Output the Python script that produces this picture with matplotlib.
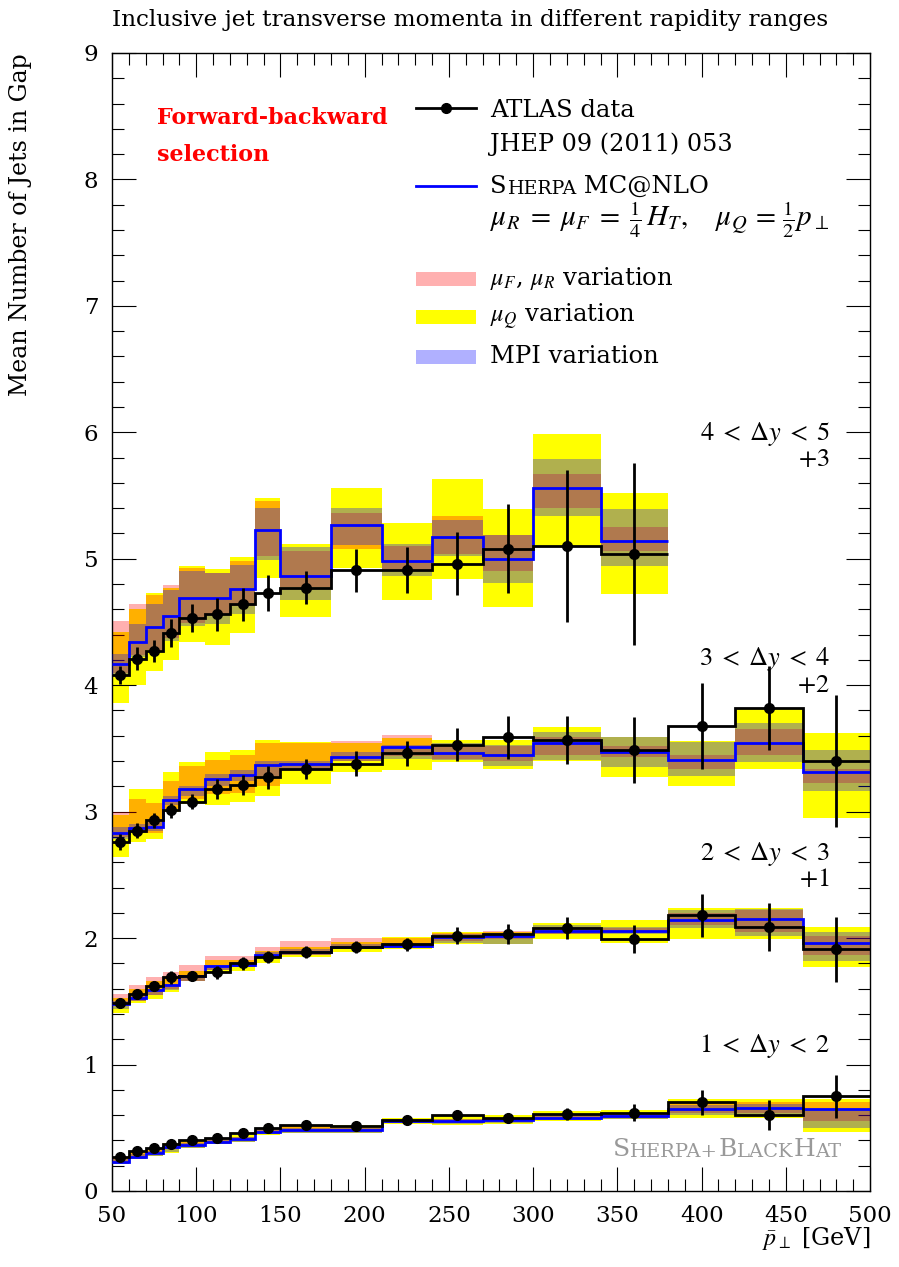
import numpy as np
import matplotlib
matplotlib.use('Agg')
import matplotlib.pyplot as plt
from matplotlib.patches import Rectangle
from matplotlib.lines import Line2D
from matplotlib.ticker import MultipleLocator

plt.rcParams['font.family'] = ['DejaVu Serif']
plt.rcParams['mathtext.fontset'] = 'stix'

# bin edges in pT [GeV]
edges = np.array([50, 60, 70, 80, 90, 105, 120, 135, 150, 180, 210, 240, 270, 300, 340, 380, 420, 460, 500])

# 4 < dy < 5  (shifted by +3, only up to 380 GeV)
data45 = [1.08, 1.21, 1.27, 1.41, 1.53, 1.56, 1.64, 1.73, 1.77, 1.91, 1.91, 1.96, 2.08, 2.10, 2.04]
err45 = [0.07, 0.09, 0.09, 0.11, 0.11, 0.13, 0.13, 0.14, 0.13, 0.17, 0.18, 0.25, 0.35, 0.60, 0.72]
mc45 = [1.17, 1.34, 1.46, 1.55, 1.69, 1.69, 1.76, 2.23, 1.86, 2.27, 1.98, 2.17, 2.00, 2.56, 2.14]
ylo45 = [0.86, 1.00, 1.11, 1.20, 1.34, 1.32, 1.41, 1.85, 1.54, 1.93, 1.67, 1.84, 1.62, 2.10, 1.72]
yhi45 = [1.42, 1.60, 1.73, 1.77, 1.94, 1.92, 2.01, 2.48, 2.12, 2.56, 2.28, 2.63, 2.39, 2.99, 2.52]
rlo45 = [1.10, 1.24, 1.28, 1.37, 1.49, 1.56, 1.63, 2.02, 1.78, 2.08, 1.90, 2.04, 1.90, 2.40, 2.06]
rhi45 = [1.51, 1.64, 1.71, 1.79, 1.93, 1.89, 1.98, 2.46, 2.06, 2.36, 2.10, 2.34, 2.19, 2.67, 2.25]
blo45 = [1.08, 1.22, 1.28, 1.35, 1.47, 1.48, 1.56, 1.99, 1.67, 2.11, 1.86, 2.02, 1.81, 2.34, 1.94]
bhi45 = [1.25, 1.48, 1.64, 1.75, 1.90, 1.89, 1.95, 2.40, 2.09, 2.40, 2.12, 2.31, 2.19, 2.79, 2.39]

# 3 < dy < 4  (shifted by +2)
data34 = [0.76, 0.85, 0.93, 1.01, 1.08, 1.18, 1.21, 1.27, 1.34, 1.38, 1.46, 1.53, 1.59, 1.57, 1.49, 1.68, 1.82, 1.40]
err34 = [0.06, 0.06, 0.06, 0.06, 0.06, 0.08, 0.08, 0.09, 0.08, 0.10, 0.10, 0.13, 0.17, 0.19, 0.26, 0.34, 0.33, 0.52]
mc34 = [0.83, 0.87, 0.88, 1.09, 1.18, 1.26, 1.29, 1.37, 1.38, 1.43, 1.51, 1.46, 1.45, 1.54, 1.47, 1.41, 1.54, 1.31]
ylo34 = [0.64, 0.76, 0.78, 1.00, 1.06, 1.05, 1.08, 1.12, 1.22, 1.31, 1.33, 1.39, 1.34, 1.40, 1.27, 1.20, 1.34, 0.95]
yhi34 = [0.97, 1.18, 1.18, 1.31, 1.39, 1.47, 1.49, 1.57, 1.55, 1.54, 1.58, 1.57, 1.57, 1.67, 1.59, 1.56, 1.81, 1.62]
rlo34 = [0.80, 0.83, 0.83, 1.02, 1.10, 1.14, 1.15, 1.20, 1.33, 1.40, 1.44, 1.42, 1.40, 1.45, 1.43, 1.34, 1.45, 1.23]
rhi34 = [1.00, 1.10, 1.07, 1.24, 1.36, 1.41, 1.45, 1.54, 1.54, 1.56, 1.61, 1.52, 1.52, 1.59, 1.52, 1.45, 1.65, 1.34]
blo34 = [0.78, 0.83, 0.85, 1.05, 1.12, 1.20, 1.24, 1.28, 1.33, 1.40, 1.42, 1.41, 1.36, 1.41, 1.35, 1.28, 1.39, 1.16]
bhi34 = [0.88, 0.90, 0.92, 1.12, 1.20, 1.30, 1.33, 1.40, 1.40, 1.47, 1.53, 1.54, 1.53, 1.63, 1.59, 1.55, 1.70, 1.49]

# 2 < dy < 3  (shifted by +1)
data23 = [0.49, 0.56, 0.62, 0.69, 0.70, 0.73, 0.80, 0.85, 0.89, 0.93, 0.95, 1.02, 1.03, 1.08, 0.99, 1.18, 1.09, 0.91]
err23 = [0.04, 0.04, 0.04, 0.05, 0.04, 0.05, 0.05, 0.05, 0.05, 0.05, 0.05, 0.07, 0.08, 0.09, 0.11, 0.17, 0.19, 0.26]
mc23 = [0.48, 0.53, 0.59, 0.63, 0.70, 0.78, 0.79, 0.87, 0.89, 0.93, 0.94, 1.01, 1.02, 1.06, 1.06, 1.14, 1.15, 0.96]
ylo23 = [0.41, 0.49, 0.52, 0.57, 0.66, 0.73, 0.74, 0.80, 0.85, 0.89, 0.91, 0.95, 0.95, 0.99, 0.96, 0.99, 0.99, 0.77]
yhi23 = [0.53, 0.60, 0.66, 0.70, 0.74, 0.83, 0.83, 0.90, 0.93, 0.97, 1.01, 1.05, 1.05, 1.12, 1.14, 1.24, 1.24, 1.09]
rlo23 = [0.46, 0.50, 0.55, 0.60, 0.66, 0.75, 0.77, 0.84, 0.87, 0.91, 0.93, 0.98, 0.99, 1.03, 1.04, 1.10, 1.05, 0.87]
rhi23 = [0.56, 0.63, 0.69, 0.73, 0.79, 0.86, 0.86, 0.93, 0.98, 1.00, 1.00, 1.04, 1.06, 1.09, 1.08, 1.20, 1.22, 1.02]
blo23 = [0.44, 0.50, 0.55, 0.59, 0.66, 0.75, 0.77, 0.84, 0.87, 0.91, 0.92, 0.96, 0.95, 1.03, 1.03, 1.08, 1.02, 0.82]
bhi23 = [0.50, 0.55, 0.60, 0.64, 0.71, 0.79, 0.81, 0.89, 0.91, 0.95, 0.96, 1.03, 1.04, 1.10, 1.09, 1.22, 1.23, 1.05]

# 1 < dy < 2  (no shift)
data12 = [0.27, 0.32, 0.34, 0.37, 0.40, 0.42, 0.46, 0.50, 0.52, 0.51, 0.56, 0.60, 0.58, 0.61, 0.62, 0.70, 0.60, 0.75]
err12 = [0.02, 0.02, 0.02, 0.02, 0.02, 0.02, 0.03, 0.03, 0.03, 0.03, 0.03, 0.04, 0.04, 0.05, 0.07, 0.10, 0.12, 0.17]
mc12 = [0.23, 0.27, 0.30, 0.35, 0.36, 0.39, 0.41, 0.47, 0.48, 0.48, 0.55, 0.55, 0.56, 0.58, 0.59, 0.65, 0.66, 0.65]
ylo12 = [0.21, 0.25, 0.28, 0.30, 0.34, 0.37, 0.39, 0.44, 0.46, 0.46, 0.53, 0.52, 0.53, 0.55, 0.57, 0.58, 0.58, 0.47]
yhi12 = [0.27, 0.31, 0.34, 0.38, 0.40, 0.42, 0.44, 0.50, 0.52, 0.52, 0.58, 0.60, 0.60, 0.63, 0.64, 0.73, 0.73, 0.73]
rlo12 = [0.23, 0.26, 0.29, 0.33, 0.35, 0.38, 0.40, 0.46, 0.47, 0.47, 0.54, 0.54, 0.55, 0.57, 0.58, 0.62, 0.62, 0.55]
rhi12 = [0.27, 0.30, 0.33, 0.37, 0.39, 0.41, 0.43, 0.50, 0.51, 0.50, 0.57, 0.57, 0.58, 0.60, 0.62, 0.70, 0.70, 0.70]
blo12 = [0.21, 0.25, 0.28, 0.31, 0.34, 0.37, 0.39, 0.45, 0.46, 0.46, 0.54, 0.53, 0.54, 0.56, 0.57, 0.60, 0.60, 0.50]
bhi12 = [0.25, 0.29, 0.32, 0.37, 0.38, 0.41, 0.43, 0.49, 0.50, 0.50, 0.57, 0.57, 0.58, 0.60, 0.61, 0.68, 0.69, 0.64]

series = [
    (3, edges[:16], data45, err45, mc45, ylo45, yhi45, rlo45, rhi45, blo45, bhi45),
    (2, edges, data34, err34, mc34, ylo34, yhi34, rlo34, rhi34, blo34, bhi34),
    (1, edges, data23, err23, mc23, ylo23, yhi23, rlo23, rhi23, blo23, bhi23),
    (0, edges, data12, err12, mc12, ylo12, yhi12, rlo12, rhi12, blo12, bhi12),
]

labels = [r'$4\;<\;\Delta y\;<\;5$', r'$3\;<\;\Delta y\;<\;4$', r'$2\;<\;\Delta y\;<\;3$', r'$1\;<\;\Delta y\;<\;2$']
shifts = ['$+3$', '$+2$', '$+1$', '']
label_y = [5.94, 4.16, 2.62, 1.10]

FS = 17.2

fig = plt.figure(figsize=(8.99, 12.67), dpi=100)
ax = fig.add_axes([0.1246, 0.0600, 0.8432, 0.8982])


def band(e, lo, hi, off, **kw):
    lo = np.array(lo) + off
    hi = np.array(hi) + off
    ax.bar(e[:-1], hi - lo, width=np.diff(e), bottom=lo, align='edge', linewidth=0, **kw)


for off, e, dat, err, mc, ylo, yhi, rlo, rhi, blo, bhi in series:
    band(e, ylo, yhi, off, color='#ffff00', zorder=1)
    band(e, rlo, rhi, off, color='red', alpha=0.31, zorder=2)
    band(e, blo, bhi, off, color='blue', alpha=0.31, zorder=3)
    ax.stairs(np.array(mc) + off, e, baseline=None, color='blue', lw=2, zorder=4)
    ax.stairs(np.array(dat) + off, e, baseline=None, color='black', lw=2, zorder=5)
    xc = 0.5 * (e[:-1] + e[1:])
    ax.errorbar(xc, np.array(dat) + off, yerr=err, fmt='o', color='black', ms=7,
                elinewidth=2, capsize=0, zorder=6)

for lab, sh, yl in zip(labels, shifts, label_y):
    ax.text(476, yl, lab, fontsize=19, ha='right', va='baseline')
    if sh:
        ax.text(476, yl - 0.21, sh, fontsize=19, ha='right', va='baseline')

ax.set_xlim(50, 500)
ax.set_ylim(0, 9)
ax.xaxis.set_major_locator(MultipleLocator(50))
ax.xaxis.set_minor_locator(MultipleLocator(10))
ax.yaxis.set_major_locator(MultipleLocator(1))
ax.yaxis.set_minor_locator(MultipleLocator(0.2))
ax.tick_params(which='both', direction='in', top=True, right=True, width=0.8, labelsize=16.5)
ax.tick_params(which='major', length=17, pad=10)
ax.tick_params(which='minor', length=8.5)
for s in ax.spines.values():
    s.set_linewidth(1.0)

ax.set_xlabel(r'$\bar{p}_\perp$ [GeV]', fontsize=FS, loc='right')
ax.xaxis.set_label_coords(1.0, -0.030)
ax.set_ylabel('Mean Number of Jets in Gap', fontsize=17, loc='top')
ax.yaxis.set_label_coords(-0.106, 1.0)

fig.text(0.1246, 1 - 20 / 1267, 'Inclusive jet transverse momenta in different rapidity ranges',
         fontsize=16.7, ha='left', va='center')

ax.text(0.059, 0.943, 'Forward-backward', transform=ax.transAxes, color='red',
        fontsize=16, fontweight='bold', va='center')
ax.text(0.059, 0.910, 'selection', transform=ax.transAxes, color='red',
        fontsize=16, fontweight='bold', va='center')


def small_caps(x, y, parts, size, color, transform):
    t = ax.text(x, y, parts[0][0], fontsize=size if parts[0][1] else size * 0.78,
                color=color, transform=transform, va='baseline', ha='left')
    for txt, big in parts[1:]:
        t = ax.annotate(txt, xy=(1, 0), xycoords=t, fontsize=size if big else size * 0.78,
                        color=color, va='bottom', ha='left')
    return t


# legend, drawn by hand
hx0, hx1, tx = 0.401, 0.480, 0.499
ax.add_line(Line2D([hx0, hx1], [0.9514, 0.9514], transform=ax.transAxes, color='black', lw=2))
ax.add_line(Line2D([0.4405], [0.9514], transform=ax.transAxes, color='black', marker='o', ms=7))
ax.text(tx, 0.949, 'ATLAS data', transform=ax.transAxes, fontsize=17.5, va='center')
ax.text(tx, 0.920, 'JHEP 09 (2011) 053', transform=ax.transAxes, fontsize=FS, va='center')
ax.add_line(Line2D([hx0, hx1], [0.883, 0.883], transform=ax.transAxes, color='blue', lw=2))
small_caps(tx, 0.877, [('S', True), ('HERPA', False), (' MC@NLO', True)], 17.5, 'black', ax.transAxes)
ax.text(tx, 0.853, r'$\mu_R\;=\;\mu_F\;=\;\frac{1}{4}\,H_T,$',
        transform=ax.transAxes, fontsize=21, va='center')
ax.text(0.7955, 0.853, r'$\mu_Q\,=\,\frac{1}{2}p_\perp$',
        transform=ax.transAxes, fontsize=21, va='center')
patches = [('red', 0.31, 0.8014, r'$\mu_F$, $\mu_R$ variation'),
           ('#ffff00', 1.0, 0.768, r'$\mu_Q$ variation'),
           ('blue', 0.31, 0.733, 'MPI variation')]
for col, a, yy, txt in patches:
    ax.add_patch(Rectangle((hx0, yy - 0.0062), hx1 - hx0, 0.0124, transform=ax.transAxes,
                           color=col, alpha=a, lw=0))
    ax.text(tx, yy, txt, transform=ax.transAxes, fontsize=17.5, va='center')

# watermark
small_caps(0.661, 0.0308, [('S', True), ('HERPA+', False), ('B', True), ('LACK', False),
                           ('H', True), ('AT', False)], 18, '#999999', ax.transAxes)

fig.savefig('out.png', dpi=100)
